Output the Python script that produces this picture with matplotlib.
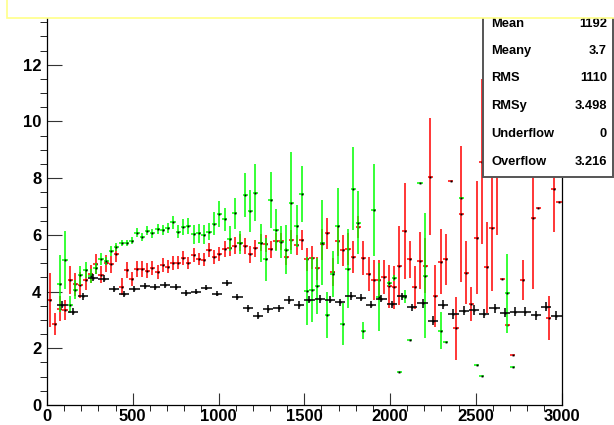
import numpy as np
import matplotlib
matplotlib.use("Agg")
import matplotlib.pyplot as plt
from matplotlib.patches import Rectangle

plt.rcParams['font.family'] = ['Liberation Sans', 'DejaVu Sans']

# black profile: 50 bins of 60 (bin index, mean, error)
black_bins = list(range(1, 50))
black_vals = [3.53, 3.29, 3.83, 4.49, 4.45, 4.10, 3.92, 4.08, 4.20, 4.17,
              4.23, 4.15, 3.94, 4.00, 4.14, 3.93, 4.30, 3.82, 3.41, 3.15,
              3.39, 3.41, 3.70, 3.53, 3.72, 3.74, 3.71, 3.62, 3.85, 3.78,
              3.54, 3.75, 3.55, 3.83, 3.44, 3.58, 2.97, 3.53, 3.21, 3.33,
              3.35, 3.22, 3.41, 3.26, 3.29, 3.29, 3.17, 3.46, 3.15]
black_errs = [0.12] * 5 + [0.10] * 13 + [0.13] * 17 + [0.16] * 14

# red profile: 100 bins of 30
red_bins = list(range(0, 91)) + [92, 94, 95, 97, 98, 99]
red_vals = [3.69, 2.85, 3.40, 3.34, 4.41, 4.26, 4.23, 4.42, 4.62, 4.97,
            4.59, 5.00, 4.96, 5.34, 4.17, 4.76, 4.43, 4.80, 4.79, 4.74,
            4.82, 4.69, 4.94, 4.88, 5.00, 5.02, 5.17, 5.00, 5.30, 5.15,
            5.13, 5.48, 5.22, 5.32, 5.49, 5.54, 5.62, 5.72, 5.62, 5.31,
            5.53, 5.72, 5.68, 5.49, 5.78, 5.78, 5.23, 5.82, 5.64, 5.82,
            5.14, 5.20, 4.82, 5.67, 6.06, 4.70, 5.77, 5.45, 5.50, 5.22,
            6.28, 5.17, 4.63, 4.41, 4.41, 4.53, 4.18, 4.15, 4.91, 6.14,
            5.14, 4.15, 5.09, 4.91, 8.05, 3.84, 5.05, 5.14, 7.90, 2.70,
            6.73, 4.67, 3.56, 5.90, 8.58, 4.85, 6.23, 8.30, 4.43, 2.82,
            1.77, 4.41, 6.60, 6.96, 3.08, 7.60, 7.15]
red_errs = [0.95, 0.38, 0.45, 0.35, 0.50, 0.40, 0.45, 0.35, 0.33, 0.35,
            0.30, 0.30, 0.30, 0.30, 0.30, 0.28, 0.25, 0.28, 0.28, 0.25,
            0.25, 0.25, 0.25, 0.22, 0.25, 0.22, 0.25, 0.22, 0.25, 0.22,
            0.22, 0.25, 0.25, 0.25, 0.28, 0.28, 0.30, 0.30, 0.28, 0.30,
            0.30, 0.30, 0.30, 0.30, 0.30, 0.30, 0.30, 0.35, 0.35, 0.35,
            0.40, 0.40, 0.40, 0.55, 0.55, 0.50, 0.50, 0.55, 0.55, 0.55,
            0.40, 0.60, 0.60, 0.70, 0.70, 0.60, 0.75, 0.75, 1.40, 1.70,
            0.65, 0.75, 1.00, 0.97, 2.07, 1.10, 1.15, 0.90, 0.00, 1.10,
            2.40, 1.10, 0.60, 2.00, 2.90, 1.60, 2.20, 2.30, 0.00, 0.00,
            0.00, 0.72, 2.50, 0.00, 0.78, 1.50, 0.00]

# green profile: 100 bins of 30
green_bins = list(range(2, 62)) + [63, 64, 66, 67, 68, 69, 70, 72, 73, 76,
                                   77, 80, 83, 84, 89, 90]
green_vals = [4.28, 5.11, 3.53, 4.07, 4.57, 4.75, 4.54, 4.82, 5.15, 5.08,
              5.42, 5.58, 5.71, 5.71, 5.80, 6.08, 5.92, 6.15, 6.05, 6.21,
              6.17, 6.23, 6.44, 6.11, 6.29, 6.31, 6.02, 6.05, 6.01, 6.11,
              6.40, 6.73, 6.55, 5.87, 6.76, 5.72, 7.41, 6.85, 7.49, 5.70,
              5.14, 7.23, 6.17, 5.76, 5.47, 7.11, 6.31, 7.44, 4.03, 4.06,
              4.20, 5.72, 3.17, 4.62, 6.31, 2.85, 4.81, 7.63, 6.43, 2.62,
              6.88, 3.81, 4.29, 4.49, 1.15, 3.82, 2.29, 7.84, 4.56, 2.62,
              2.23, 7.31, 1.41, 1.02, 3.94, 1.33]
green_errs = [1.00, 1.03, 0.30, 0.33, 0.33, 0.28, 0.25, 0.20, 0.20, 0.15,
              0.18, 0.15, 0.12, 0.12, 0.12, 0.15, 0.15, 0.15, 0.15, 0.18,
              0.18, 0.18, 0.22, 0.22, 0.28, 0.28, 0.33, 0.35, 0.35, 0.30,
              0.40, 0.45, 0.40, 0.45, 0.55, 0.40, 0.77, 0.74, 1.00, 0.67,
              0.76, 1.00, 0.74, 0.56, 0.86, 1.80, 0.75, 1.00, 1.20, 1.15,
              1.00, 1.50, 0.80, 0.80, 1.35, 0.73, 1.40, 1.47, 1.10, 0.30,
              1.63, 1.20, 0.10, 0.10, 0.00, 0.23, 0.00, 0.00, 2.20, 0.65,
              0.00, 0.00, 0.00, 0.00, 1.40, 0.00]

stats_names = ['Mean', 'Meany', 'RMS', 'RMSy', 'Underflow', 'Overflow']
stats_values = ['1192', '3.7', '1110', '3.498', '0', '3.216']

W, H = 614, 425
fig = plt.figure(figsize=(W / 100, H / 100), dpi=100)
ax = fig.add_axes([47 / W, 20 / H, 514.5 / W, 397 / H])


def draw_profile(bins, vals, errs, width, color):
    x = (np.array(bins) + 0.5) * width
    ax.errorbar(x, vals, yerr=errs, xerr=width / 2, fmt='none',
                ecolor=color, elinewidth=1.1, capsize=0)
    ax.plot(x, vals, 's', color='black', markersize=1.4, markeredgewidth=0)


draw_profile(red_bins, red_vals, red_errs, 30, '#ff0000')
draw_profile(green_bins, green_vals, green_errs, 30, '#00ff00')
draw_profile(black_bins, black_vals, black_errs, 60, 'black')

ax.set_xlim(0, 3000)
ax.set_ylim(0, 14)
ax.set_xticks(np.arange(0, 3001, 500))
ax.set_xticks(np.arange(0, 3001, 100), minor=True)
ax.set_yticks(np.arange(0, 13, 2))
ax.set_yticks(np.arange(0, 14.01, 0.5), minor=True)
ax.tick_params(direction='in', width=0.8, color='#333333', labelsize=12)
ax.tick_params(axis='x', which='major', length=8.6, pad=3)
ax.tick_params(axis='x', which='minor', length=4.3)
ax.tick_params(axis='y', which='major', length=10.8, pad=4)
ax.tick_params(axis='y', which='minor', length=5.4)
for lab in ax.get_xticklabels() + ax.get_yticklabels():
    lab.set_fontweight('bold')
for sp in ax.spines.values():
    sp.set_linewidth(0.9)

# stats box
fig.patches.append(Rectangle((483 / W, 1 - 177 / H), 130 / W, 170 / H,
                             transform=fig.transFigure, facecolor='white',
                             edgecolor='#555555', linewidth=1.4, zorder=5))
row_y = [24, 51, 78, 106, 134, 162]
for name, val, y in zip(stats_names, stats_values, row_y):
    fig.text(491 / W, 1 - y / H, name, ha='left', va='center', fontsize=9.3,
             fontweight='bold', zorder=6)
    fig.text(607 / W, 1 - y / H, val, ha='right', va='center', fontsize=9.3,
             fontweight='bold', zorder=6)

# title box
fig.patches.append(Rectangle((7 / W, 1 - 18 / H), 620 / W, 20 / H,
                             transform=fig.transFigure, facecolor='white',
                             edgecolor='#ffff88', linewidth=1.2, zorder=7))

fig.savefig('out.png', dpi=100)
